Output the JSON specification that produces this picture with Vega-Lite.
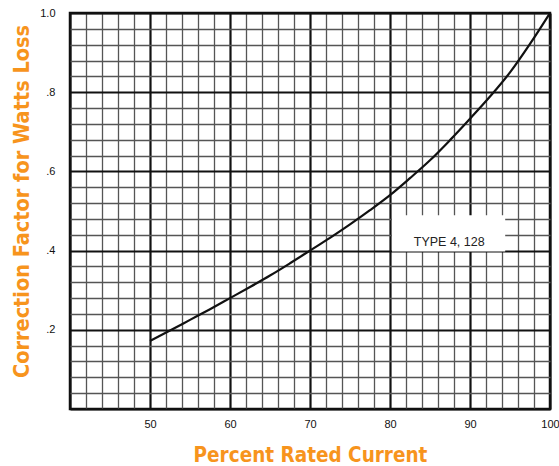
{
  "$schema": "https://vega.github.io/schema/vega-lite/v6.json",
  "autosize": "none",
  "width": 480,
  "height": 396,
  "padding": {"left": 70, "top": 13, "right": 9, "bottom": 57},
  "background": "white",
  "config": {
    "view": {"stroke": "#111", "strokeWidth": 2.5},
    "font": "Liberation Sans"
  },
  "encoding": {
    "x": {
      "field": "current", "type": "quantitative",
      "scale": {"domain": [40, 100], "nice": false, "zero": false},
      "axis": {
        "title": "Percent Rated Current",
        "values": [40,42,44,46,48,50,52,54,56,58,60,62,64,66,68,70,72,74,76,78,80,82,84,86,88,90,92,94,96,98,100],
        "labelExpr": "datum.value % 10 === 0 && datum.value >= 50 ? datum.label : ''",
        "labelOverlap": false,
        "labelBound": false,
        "labelFlush": false,
        "labelFont": "Liberation Sans",
        "labelFontSize": 11,
        "labelColor": "#111",
        "labelPadding": 9,
        "ticks": false,
        "domain": false,
        "grid": true,
        "gridColor": {"condition": {"test": "datum.value % 10 === 0", "value": "#111"}, "value": "#555"},
        "gridWidth": {"condition": {"test": "datum.value % 10 === 0", "value": 2.2}, "value": 1.3},
        "gridOpacity": 1,
        "titleFont": "DejaVu Sans Condensed, Liberation Sans, sans-serif",
        "titleFontWeight": "bold",
        "titleFontSize": 20.5,
        "titleColor": "#F7941D",
        "titleBaseline": "alphabetic",
        "titleY": 52
      }
    },
    "y": {
      "field": "factor", "type": "quantitative",
      "scale": {"domain": [0, 1], "nice": false},
      "axis": {
        "title": "Correction Factor for Watts Loss",
        "values": [0,0.04,0.08,0.12,0.16,0.2,0.24,0.28,0.32,0.36,0.4,0.44,0.48,0.52,0.56,0.6,0.64,0.68,0.72,0.76,0.8,0.84,0.88,0.92,0.96,1.0],
        "labelExpr": "abs(datum.value*5 - round(datum.value*5)) < 0.001 && datum.value > 0.01 ? (datum.value > 0.99 ? '1.0' : replace(format(datum.value, '.1f'), '0.', '.')) : ''",
        "labelOverlap": false,
        "labelBound": false,
        "labelFlush": false,
        "labelFont": "Liberation Sans",
        "labelFontSize": 11,
        "labelColor": "#111",
        "labelPadding": 15,
        "ticks": false,
        "domain": false,
        "grid": true,
        "gridColor": {"condition": {"test": "abs(datum.value*5 - round(datum.value*5)) < 0.001", "value": "#111"}, "value": "#555"},
        "gridWidth": {"condition": {"test": "abs(datum.value*5 - round(datum.value*5)) < 0.001", "value": 2.2}, "value": 1.3},
        "gridOpacity": 1,
        "titleFont": "DejaVu Sans Condensed, Liberation Sans, sans-serif",
        "titleFontWeight": "bold",
        "titleFontSize": 21.5,
        "titleColor": "#F7941D",
        "titleBaseline": "middle",
        "titleX": -48,
        "titleY": 188
      }
    }
  },
  "layer": [
    {
      "data": {"values": [
        {"current": 50, "factor": 0.172},
        {"current": 52.5, "factor": 0.198},
        {"current": 55, "factor": 0.225},
        {"current": 57.5, "factor": 0.252},
        {"current": 60, "factor": 0.28},
        {"current": 62.5, "factor": 0.308},
        {"current": 65, "factor": 0.337},
        {"current": 67.5, "factor": 0.368},
        {"current": 70, "factor": 0.4},
        {"current": 72.5, "factor": 0.432},
        {"current": 75, "factor": 0.466},
        {"current": 77.5, "factor": 0.502},
        {"current": 80, "factor": 0.54},
        {"current": 82.5, "factor": 0.583},
        {"current": 85, "factor": 0.628},
        {"current": 87.5, "factor": 0.679},
        {"current": 90, "factor": 0.733},
        {"current": 92.5, "factor": 0.789},
        {"current": 95, "factor": 0.85},
        {"current": 97.5, "factor": 0.922},
        {"current": 100, "factor": 1.0}
      ]},
      "mark": {"type": "line", "color": "#111", "strokeWidth": 2.2, "interpolate": "monotone"}
    },
    {
      "data": {"values": [
        {"current": 80.25, "current2": 94.4, "factor": 0.398, "factor2": 0.489}
      ]},
      "mark": {"type": "rect", "color": "white", "opacity": 1},
      "encoding": {
        "x2": {"field": "current2"},
        "y2": {"field": "factor2"}
      }
    },
    {
      "data": {"values": [
        {"current": 87.4, "factor": 0.421, "text": "TYPE 4, 128"}
      ]},
      "mark": {"type": "text", "font": "Liberation Sans", "fontSize": 12.5, "color": "#222", "align": "center", "baseline": "middle"},
      "encoding": {
        "text": {"field": "text"}
      }
    }
  ]
}
